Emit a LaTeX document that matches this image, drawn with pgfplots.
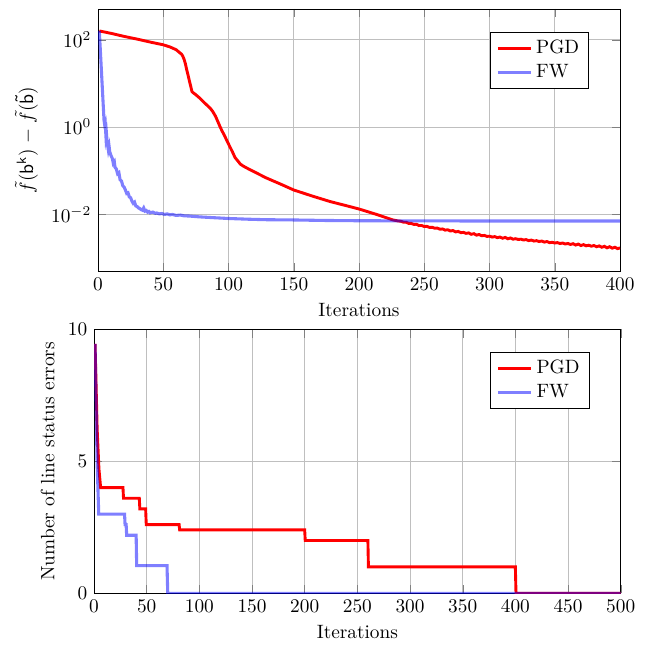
\documentclass[border=0pt]{standalone}
\usepackage{pgfplots}
\pgfplotsset{compat=1.18}
\begin{document}
\begin{tikzpicture}
\pgfplotsset{
  every axis/.append style={
    scale only axis,
    grid=major,
    major grid style={black!25},
    legend cell align=left,
    xlabel={Iterations},
  },
  pgdline/.style={red, line width=1.5pt},
  fwline/.style={blue, draw opacity=0.5, line width=1.6pt},
}
\begin{axis}[
  name=top, at={(0,0)}, anchor=south west,
  width=270.5pt, height=135.8pt,
  ymode=log,
  xmin=0, xmax=400, ymin=5e-4, ymax=513,
  xtick={0,50,...,400},
  ytick={1e-2,1,1e2},
  yminorticks=false,
  ylabel={$\tilde{f}\mathsf{(b^{k})}\;\mathsf{-}\;\tilde{f}\mathsf{(\tilde{b})}$},
  legend style={at={(0.941,0.912)}, anchor=north east},
]
\addplot[pgdline] coordinates {
(1,160)(10,141)(20,120)(30,104)(40,89)(50,77)(55,69)(58,63)(60,59)(62,52.5)(64,47)(65,42)(66,35.5)(67,28)(68,20.4)(69,15.5)(70,11.5)(71,8.7)(72,6.5)(73,6.1)(75,5.5)(78,4.6)(82,3.5)(86,2.7)(88,2.25)(90,1.78)(92,1.3)(93.5,1.02)(95,0.82)(97,0.63)(99,0.47)(101,0.355)(103,0.27)(105,0.2)(107.5,0.162)(109,0.142)(111,0.129)(114,0.115)(120,0.093)(129,0.068)(140,0.049)(150,0.036)(165,0.0257)(178,0.0195)(190,0.0158)(200,0.0132)(213,0.0100)(226,0.0074)
(230,0.00702)(232,0.00691)(234,0.00658)(236,0.00657)(238,0.00619)(240,0.00616)(242,0.00585)(244,0.00590)(246,0.00551)(248,0.00552)
(250,0.00523)(252,0.00529)(254,0.00498)(256,0.00503)(258,0.00478)(260,0.00482)(262,0.00454)(264,0.00460)(266,0.00433)(268,0.00441)
(270,0.00414)(272,0.00423)(274,0.00394)(276,0.00404)(278,0.00379)(280,0.00384)(282,0.00365)(284,0.00373)(286,0.00347)(288,0.00359)
(290,0.00332)(292,0.00343)(294,0.00322)(296,0.00327)(298,0.00311)(300,0.00314)(302,0.00300)(304,0.00307)(306,0.00291)(308,0.00300)
(310,0.00282)(312,0.00294)(314,0.00274)(316,0.00286)(318,0.00268)(320,0.00275)(322,0.00264)(324,0.00268)(326,0.00257)(328,0.00262)
(330,0.00249)(332,0.00256)(334,0.00243)(336,0.00248)(338,0.00237)(340,0.00243)(342,0.00230)(344,0.00237)(346,0.00223)(348,0.00228)
(350,0.00219)(352,0.00224)(354,0.00213)(356,0.00219)(358,0.00208)(360,0.00214)(362,0.00203)(364,0.00211)(366,0.00197)(368,0.00207)
(370,0.00192)(372,0.00201)(374,0.00189)(376,0.00195)(378,0.00185)(380,0.00192)(382,0.00180)(384,0.00188)(386,0.00175)(388,0.00184)
(390,0.00170)(392,0.00180)(394,0.00167)(396,0.00175)(398,0.00163)(400,0.00169)
};
\addlegendentry{PGD}
\addplot[fwline] coordinates {
(1,160)(2,44)(3,11.9)(4,3.2)(4.6,1.46)(5,1.2)(5.5,1.3)(6.1,0.6)(6.5,0.7)(7,0.45)(7.9,0.30)(8.5,0.36)(9,0.27)(10,0.22)(11,0.19)(11.7,0.148)(12.5,0.16)(13,0.12)(14,0.11)(15,0.085)(16,0.09)(16.9,0.062)(18,0.058)(19,0.045)(20,0.042)(21,0.036)(22,0.030)(23,0.031)(24,0.025)(25,0.024)(26,0.020)(27,0.0178)(28,0.019)(29,0.0155)(30,0.0150)(31,0.0140)(32,0.0135)(33,0.0128)(34,0.0124)(35,0.0140)(36,0.0118)(37,0.0122)(38,0.0112)(39,0.0116)(40,0.0108)(42,0.0112)(44,0.0105)(45,0.0107)(47,0.0102)(49,0.0104)(51,0.0099)(53,0.0102)(55,0.0097)(57,0.0099)(60,0.0094)(63,0.0096)(66,0.0092)(70,0.0091)(78,0.0087)(90,0.0083)(100,0.0080)(115,0.0077)(129,0.0075)(150,0.0074)(175,0.0072)(200,0.0071)(300,0.0070)(400,0.0070)
};
\addlegendentry{FW}
\end{axis}
\begin{axis}[
  at={(-2.07pt,-30.2pt)}, anchor=north west,
  width=272.9pt, height=136.8pt,
  xmin=0, xmax=500, ymin=0, ymax=10,
  xtick={0,50,...,500},
  ytick={0,5,10},
  ylabel={Number of line status errors},
  legend style={at={(0.941,0.913)}, anchor=north east},
]
\addplot[pgdline] coordinates {
(1,9.45)(3,6.2)(4.7,4.7)(6.3,4.0)(27.5,4.0)(28,3.6)(43,3.6)(43.5,3.2)(49,3.2)(49.6,2.6)(80.8,2.6)(81.3,2.4)(200,2.4)(200.5,2.0)(260,2.0)(260.5,1.0)(400,1.0)(400.6,0)(500,0)
};
\addlegendentry{PGD}
\addplot[fwline] coordinates {
(1,9.45)(2.9,5)(4.5,3.0)(29,3.0)(29.5,2.6)(30.5,2.6)(31,2.2)(40,2.2)(40.5,1.05)(69.3,1.05)(70,0)(500,0)
};
\addlegendentry{FW}
\end{axis}
\pgfresetboundingbox
\path[use as bounding box] (-50.78pt,140.41pt) rectangle (286.01pt,-196.37pt);
\end{tikzpicture}
\end{document}
